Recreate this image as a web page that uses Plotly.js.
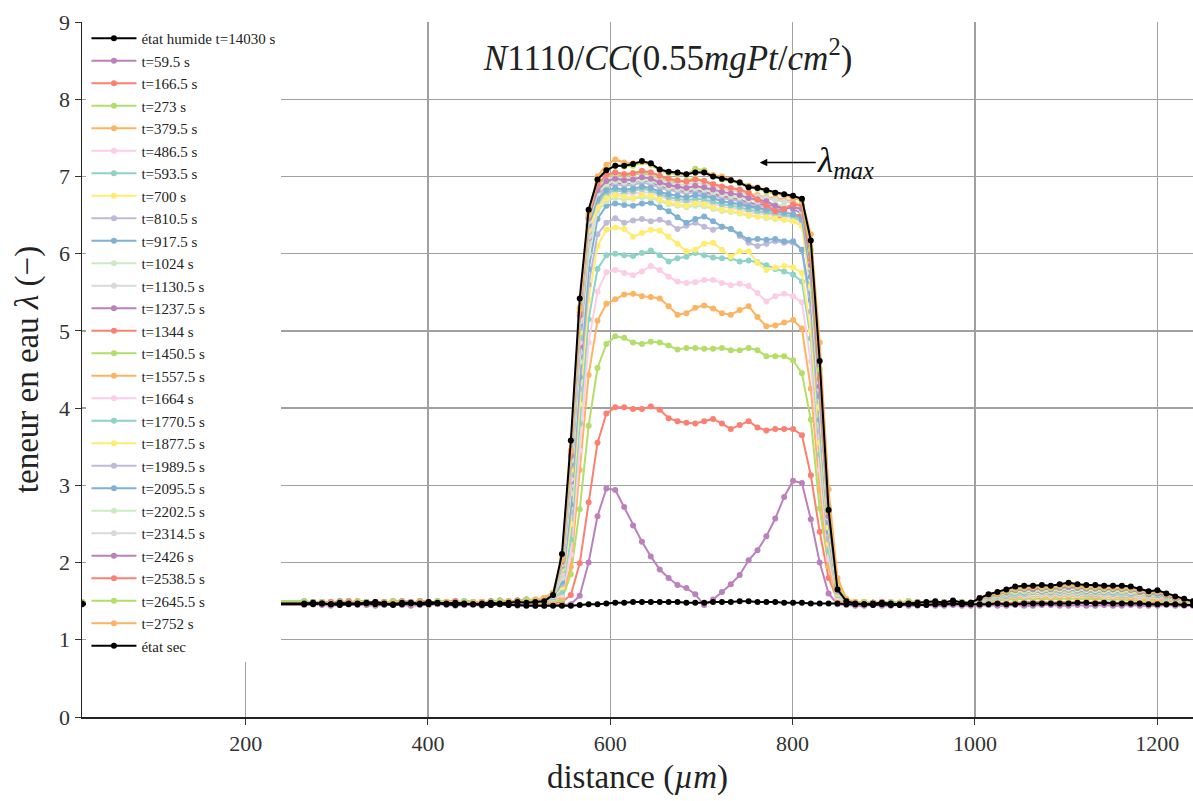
<!DOCTYPE html>
<html>
<head>
<meta charset="utf-8">
<script src="https://cdn.plot.ly/plotly-3.0.1.min.js"></script>
<style>html,body{margin:0;padding:0;background:#fff;}#chart{width:1193px;height:801px;}</style>
</head>
<body>
<div id="chart"></div>
<script>
// distance positions (µm)
const xDist = [20.5,
264.25,274,283.75,293.5,303.25,313,322.75,332.5,342.25,352,
361.75,371.5,381.25,391,400.75,410.5,420.25,430,439.75,449.5,
459.25,469,478.75,488.5,498.25,508,
517.75,527.5,537.25,547,556.75,566.5,576.25,586,595.75,605.5,
615.25,625,634.75,644.5,654.25,664,673.75,683.5,693.25,703,
712.75,722.5,732.25,742,751.75,761.5,771.25,781,790.75,800.5,810.25,
820,829.75,839.5,849.25,859,868.75,
878.5,888.25,898,907.75,917.5,927.25,937,946.75,956.5,966.25,976,985.75,
995.5,1005.25,1015,1024.75,1034.5,1044.25,1054,1063.75,1073.5,1083.25,
1093,1102.75,1112.5,1122.25,1132,1141.75,1151.5,1161.25,1171,1180.75,
1190.5,1200.25,1210,1219.75,1229.5,1239.25];

// état humide t=14030 s
const lamHumide = [1.47,
1.47,1.48,1.47,1.46,1.48,1.47,1.47,1.48,1.49,1.47,1.46,1.48,1.48,1.47,1.49,1.48,1.47,1.48,1.47,1.46,1.47,1.48,1.47,1.48,1.49,1.48,
1.49,1.50,1.58,2.11,3.58,5.42,6.57,6.96,7.08,7.14,
7.14,7.16,7.20,7.17,7.09,7.06,7.05,7.03,7.05,7.05,7.00,6.97,6.95,6.92,6.86,6.85,6.82,6.79,6.77,6.75,6.71,
6.17,4.61,2.68,1.65,1.50,1.47,
1.46,1.47,1.48,1.47,1.46,1.47,1.48,1.49,1.50,1.48,1.51,1.48,
1.48,1.54,1.59,1.62,1.65,1.69,1.70,1.70,1.71,1.70,1.72,1.74,1.72,1.71,1.71,1.70,1.70,1.70,1.69,1.66,1.63,1.64,1.60,1.56,1.53,1.50];

// état sec
const lamSec = [1.46,
1.46,1.46,1.47,1.46,1.45,1.46,1.46,1.47,1.46,1.46,1.45,1.46,1.47,1.46,1.46,1.47,1.46,1.45,1.46,1.46,1.45,1.45,1.46,1.45,1.45,1.44,
1.44,1.44,1.44,1.44,1.44,1.45,1.46,1.46,1.47,1.48,
1.48,1.49,1.49,1.49,1.49,1.49,1.49,1.48,1.48,1.48,1.49,1.49,1.49,1.50,1.50,1.49,1.49,1.49,1.48,1.48,1.48,
1.47,1.47,1.47,1.47,1.46,1.46,
1.46,1.45,1.46,1.45,1.45,1.46,1.45,1.45,1.46,1.46,1.47,1.46,
1.46,1.46,1.46,1.47,1.46,1.46,1.47,1.47,1.47,1.47,1.47,1.47,1.48,1.48,1.47,1.48,1.47,1.47,1.47,1.47,1.46,1.46,1.46,1.46,1.45,1.45];

const lam_59_5 = [1.46,
1.45,1.46,1.45,1.44,1.45,1.46,1.45,1.45,1.44,1.45,1.46,1.45,1.44,1.45,1.45,1.46,1.45,1.44,1.45,1.45,1.44,1.45,1.46,1.45,1.44,1.45,
1.44,1.44,1.45,1.45,1.46,1.57,2.00,2.60,2.96,2.94,
2.72,2.48,2.27,2.08,1.91,1.80,1.71,1.67,1.59,1.45,1.52,1.62,1.72,1.84,2.03,2.16,2.34,2.57,2.85,3.06,3.03,
2.56,2.00,1.60,1.46,1.45,1.44,
1.44,1.45,1.44,1.44,1.45,1.44,1.44,1.45,1.44,1.44,1.45,1.44,
1.44,1.44,1.45,1.44,1.44,1.45,1.44,1.44,1.45,1.45,1.44,1.44,1.45,1.44,1.44,1.45,1.44,1.44,1.45,1.44,1.44,1.44,1.45,1.44,1.44,1.44];

const lam_166_5 = [1.48,
1.47,1.48,1.47,1.46,1.48,1.47,1.47,1.48,1.49,1.47,1.46,1.48,1.48,1.47,1.49,1.48,1.47,1.48,1.47,1.46,1.47,1.48,1.47,1.48,1.49,1.48,
1.46,1.46,1.47,1.49,1.58,1.99,2.78,3.55,3.93,4.01,
4.01,3.99,3.99,4.02,3.98,3.87,3.83,3.81,3.80,3.83,3.86,3.80,3.73,3.78,3.83,3.75,3.71,3.73,3.73,3.73,3.65,
3.13,2.40,1.80,1.52,1.47,1.46,
1.47,1.48,1.47,1.46,1.47,1.48,1.47,1.47,1.48,1.47,1.48,1.47,
1.46,1.47,1.47,1.48,1.48,1.48,1.49,1.49,1.49,1.48,1.49,1.49,1.49,1.48,1.49,1.49,1.48,1.48,1.48,1.48,1.47,1.48,1.47,1.47,1.46,1.46];

const lam_273 = [1.47,
1.48,1.49,1.47,1.48,1.50,1.48,1.47,1.49,1.48,1.47,1.48,1.50,1.49,1.47,1.48,1.49,1.48,1.47,1.49,1.48,1.48,1.50,1.49,1.48,1.50,1.51,
1.47,1.48,1.49,1.52,1.85,2.69,3.77,4.52,4.83,4.93,
4.91,4.85,4.83,4.86,4.85,4.81,4.76,4.78,4.78,4.77,4.77,4.78,4.75,4.75,4.78,4.75,4.67,4.67,4.67,4.62,4.45,
3.85,2.70,1.95,1.50,1.46,1.47,
1.48,1.47,1.49,1.48,1.47,1.48,1.49,1.47,1.48,1.49,1.48,1.48,
1.47,1.49,1.50,1.51,1.52,1.52,1.53,1.53,1.53,1.52,1.53,1.53,1.53,1.52,1.53,1.52,1.52,1.52,1.51,1.51,1.50,1.50,1.49,1.49,1.48,1.47];

const lam_379_5 = [1.48,
1.49,1.47,1.48,1.49,1.48,1.50,1.48,1.47,1.49,1.49,1.48,1.47,1.48,1.50,1.49,1.48,1.49,1.50,1.48,1.47,1.49,1.48,1.50,1.49,1.51,1.50,
1.48,1.49,1.51,1.55,1.95,3.20,4.43,5.13,5.35,5.41,
5.47,5.48,5.45,5.44,5.42,5.32,5.21,5.23,5.30,5.33,5.29,5.23,5.21,5.27,5.32,5.18,5.06,5.07,5.11,5.14,5.03,
4.25,2.95,1.95,1.52,1.47,1.48,
1.49,1.48,1.47,1.49,1.48,1.50,1.48,1.47,1.49,1.48,1.49,1.49,
1.48,1.50,1.52,1.53,1.54,1.55,1.56,1.56,1.56,1.55,1.56,1.57,1.56,1.56,1.55,1.56,1.55,1.55,1.54,1.53,1.52,1.52,1.51,1.50,1.49,1.48];

const lam_486_5 = [1.47,
1.46,1.47,1.48,1.47,1.46,1.48,1.49,1.47,1.46,1.47,1.48,1.49,1.47,1.48,1.46,1.47,1.49,1.48,1.47,1.48,1.49,1.47,1.48,1.50,1.48,1.49,
1.49,1.50,1.52,1.58,2.10,3.45,4.85,5.51,5.76,5.79,
5.75,5.72,5.77,5.84,5.79,5.70,5.64,5.62,5.63,5.66,5.66,5.62,5.59,5.61,5.58,5.49,5.38,5.45,5.48,5.45,5.37,
4.60,3.20,2.05,1.55,1.48,1.47,
1.47,1.48,1.47,1.46,1.47,1.48,1.47,1.47,1.48,1.47,1.48,1.47,
1.47,1.50,1.52,1.54,1.55,1.57,1.57,1.57,1.58,1.57,1.58,1.59,1.58,1.58,1.58,1.57,1.57,1.57,1.57,1.55,1.54,1.55,1.53,1.51,1.50,1.48];

const lam_593_5 = [1.49,
1.50,1.48,1.49,1.47,1.49,1.48,1.50,1.49,1.47,1.48,1.50,1.49,1.48,1.49,1.47,1.50,1.49,1.48,1.50,1.49,1.47,1.49,1.51,1.50,1.49,1.52,
1.49,1.51,1.53,1.62,2.30,3.80,5.15,5.80,5.98,6.00,
5.98,5.97,6.01,6.04,5.98,5.90,5.94,5.96,6.01,5.98,5.95,5.94,5.94,5.90,5.91,5.89,5.85,5.80,5.77,5.73,5.64,
4.90,3.40,2.15,1.58,1.48,1.47,
1.48,1.47,1.49,1.48,1.47,1.48,1.49,1.47,1.48,1.49,1.48,1.48,
1.48,1.51,1.53,1.55,1.56,1.58,1.59,1.59,1.60,1.59,1.60,1.61,1.60,1.59,1.59,1.59,1.59,1.58,1.58,1.57,1.55,1.56,1.54,1.52,1.50,1.49];

const lam_700 = [1.47,
1.47,1.48,1.47,1.46,1.48,1.47,1.47,1.48,1.49,1.47,1.46,1.48,1.48,1.47,1.49,1.48,1.47,1.48,1.47,1.46,1.47,1.48,1.47,1.48,1.49,1.48,
1.49,1.51,1.54,1.68,2.50,4.05,5.40,6.10,6.31,6.34,
6.32,6.22,6.27,6.31,6.30,6.22,6.13,6.03,6.05,6.13,6.14,6.05,5.96,6.03,6.03,5.88,5.79,5.82,5.84,5.82,5.75,
5.00,3.55,2.25,1.60,1.49,1.48,
1.49,1.48,1.47,1.49,1.48,1.50,1.48,1.47,1.49,1.48,1.49,1.49,
1.48,1.51,1.54,1.56,1.58,1.60,1.61,1.60,1.61,1.60,1.62,1.63,1.62,1.61,1.61,1.60,1.61,1.60,1.60,1.58,1.56,1.57,1.55,1.52,1.51,1.49];

const lam_810_5 = [1.48,
1.48,1.49,1.47,1.48,1.50,1.48,1.47,1.49,1.48,1.47,1.48,1.50,1.49,1.47,1.48,1.49,1.48,1.47,1.49,1.48,1.48,1.50,1.49,1.48,1.50,1.51,
1.49,1.51,1.55,1.72,2.65,4.25,5.60,6.25,6.40,6.46,
6.40,6.43,6.45,6.42,6.44,6.40,6.32,6.36,6.40,6.35,6.31,6.35,6.32,6.23,6.14,6.10,6.13,6.16,6.14,6.14,6.05,
5.25,3.70,2.30,1.62,1.49,1.48,
1.47,1.48,1.47,1.46,1.47,1.48,1.47,1.47,1.48,1.47,1.48,1.47,
1.48,1.51,1.54,1.57,1.58,1.61,1.61,1.62,1.62,1.61,1.63,1.64,1.63,1.62,1.62,1.61,1.61,1.61,1.60,1.59,1.57,1.58,1.55,1.53,1.51,1.49];

const lam_917_5 = [1.48,
1.49,1.47,1.48,1.49,1.48,1.50,1.48,1.47,1.49,1.49,1.48,1.47,1.48,1.50,1.49,1.48,1.49,1.50,1.48,1.47,1.49,1.48,1.50,1.49,1.51,1.50,
1.50,1.52,1.55,1.75,2.75,4.40,5.80,6.45,6.62,6.65,
6.63,6.62,6.65,6.66,6.60,6.55,6.47,6.40,6.45,6.48,6.42,6.35,6.32,6.25,6.18,6.19,6.18,6.19,6.16,6.16,6.05,
5.40,3.85,2.40,1.65,1.50,1.48,
1.48,1.47,1.49,1.48,1.47,1.48,1.49,1.47,1.48,1.49,1.48,1.48,
1.48,1.52,1.55,1.57,1.59,1.61,1.62,1.62,1.63,1.62,1.64,1.65,1.64,1.63,1.63,1.62,1.62,1.62,1.61,1.60,1.58,1.58,1.56,1.53,1.51,1.49];

const lam_1024 = [1.47,
1.46,1.47,1.48,1.47,1.46,1.48,1.49,1.47,1.46,1.47,1.48,1.49,1.47,1.48,1.46,1.47,1.49,1.48,1.47,1.48,1.49,1.47,1.48,1.50,1.48,1.49,
1.50,1.52,1.56,1.80,2.90,4.60,6.00,6.55,6.68,6.72,
6.70,6.71,6.73,6.72,6.68,6.64,6.62,6.60,6.62,6.61,6.58,6.55,6.54,6.52,6.49,6.48,6.46,6.45,6.44,6.42,6.36,
5.55,4.00,2.45,1.66,1.50,1.48,
1.49,1.48,1.47,1.49,1.48,1.50,1.48,1.47,1.49,1.48,1.49,1.49,
1.48,1.52,1.55,1.58,1.60,1.62,1.63,1.63,1.64,1.63,1.65,1.66,1.65,1.64,1.64,1.63,1.63,1.63,1.62,1.60,1.58,1.59,1.56,1.53,1.51,1.49];

const lam_1130_5 = [1.49,
1.50,1.48,1.49,1.47,1.49,1.48,1.50,1.49,1.47,1.48,1.50,1.49,1.48,1.49,1.47,1.50,1.49,1.48,1.50,1.49,1.47,1.49,1.51,1.50,1.49,1.52,
1.50,1.52,1.57,1.84,3.00,4.72,6.12,6.66,6.80,6.84,
6.82,6.83,6.86,6.84,6.80,6.76,6.75,6.72,6.74,6.73,6.70,6.68,6.66,6.63,6.60,6.58,6.57,6.55,6.54,6.52,6.46,
5.65,4.10,2.50,1.68,1.50,1.48,
1.47,1.48,1.47,1.46,1.47,1.48,1.47,1.47,1.48,1.47,1.48,1.47,
1.48,1.52,1.56,1.58,1.60,1.63,1.64,1.64,1.65,1.64,1.66,1.67,1.66,1.65,1.65,1.64,1.64,1.64,1.63,1.61,1.59,1.60,1.57,1.54,1.51,1.49];

const lam_1237_5 = [1.47,
1.47,1.48,1.47,1.46,1.48,1.47,1.47,1.48,1.49,1.47,1.46,1.48,1.48,1.47,1.49,1.48,1.47,1.48,1.47,1.46,1.47,1.48,1.47,1.48,1.49,1.48,
1.50,1.52,1.57,1.86,3.05,4.80,6.20,6.74,6.88,6.92,
6.90,6.92,6.95,6.93,6.88,6.85,6.83,6.80,6.82,6.80,6.77,6.74,6.72,6.70,6.66,6.64,6.63,6.62,6.60,6.58,6.52,
5.75,4.20,2.55,1.68,1.50,1.48,
1.48,1.47,1.49,1.48,1.47,1.48,1.49,1.47,1.48,1.49,1.48,1.48,
1.48,1.53,1.56,1.59,1.61,1.64,1.65,1.65,1.66,1.65,1.67,1.68,1.67,1.66,1.66,1.65,1.65,1.65,1.64,1.62,1.59,1.60,1.57,1.54,1.52,1.49];

const lam_1344 = [1.48,
1.48,1.49,1.47,1.48,1.50,1.48,1.47,1.49,1.48,1.47,1.48,1.50,1.49,1.47,1.48,1.49,1.48,1.47,1.49,1.48,1.48,1.50,1.49,1.48,1.50,1.51,
1.50,1.53,1.58,1.90,3.12,4.88,6.28,6.82,6.94,6.98,
6.96,6.97,7.00,6.98,6.93,6.88,6.86,6.84,6.87,6.85,6.80,6.76,6.72,6.68,6.62,6.60,6.55,6.48,6.47,6.50,6.50,
5.80,4.25,2.60,1.70,1.51,1.48,
1.49,1.48,1.47,1.49,1.48,1.50,1.48,1.47,1.49,1.48,1.49,1.49,
1.48,1.53,1.56,1.59,1.61,1.64,1.65,1.65,1.66,1.65,1.67,1.68,1.67,1.66,1.66,1.65,1.65,1.65,1.64,1.62,1.59,1.60,1.57,1.54,1.52,1.49];

const lam_1450_5 = [1.48,
1.49,1.47,1.48,1.49,1.48,1.50,1.48,1.47,1.49,1.49,1.48,1.47,1.48,1.50,1.49,1.48,1.49,1.50,1.48,1.47,1.49,1.48,1.50,1.49,1.51,1.50,
1.50,1.53,1.58,1.92,3.18,4.95,6.33,6.86,7.00,7.02,
7.00,7.02,7.04,7.02,6.98,6.94,6.92,6.95,6.98,6.94,6.88,6.84,6.82,6.80,6.76,6.74,6.72,6.70,6.68,6.67,6.62,
5.90,4.30,2.62,1.70,1.50,1.48,
1.47,1.48,1.47,1.46,1.47,1.48,1.47,1.47,1.48,1.47,1.48,1.47,
1.48,1.53,1.57,1.59,1.62,1.65,1.66,1.66,1.67,1.66,1.68,1.69,1.68,1.67,1.67,1.66,1.66,1.66,1.65,1.62,1.60,1.61,1.58,1.54,1.52,1.49];

const lam_1557_5 = [1.49,
1.50,1.48,1.49,1.47,1.49,1.48,1.50,1.49,1.47,1.48,1.50,1.49,1.48,1.49,1.47,1.50,1.49,1.48,1.50,1.49,1.47,1.49,1.51,1.50,1.49,1.52,
1.51,1.53,1.59,1.94,3.22,5.00,6.36,6.88,7.02,7.05,
7.03,7.04,7.07,7.05,7.00,6.96,6.94,6.93,6.96,6.94,6.90,6.86,6.84,6.82,6.78,6.76,6.73,6.72,6.70,6.68,6.60,
5.95,4.40,2.68,1.72,1.51,1.48,
1.48,1.47,1.49,1.48,1.47,1.48,1.49,1.47,1.48,1.49,1.48,1.48,
1.48,1.53,1.57,1.59,1.62,1.65,1.66,1.66,1.67,1.66,1.68,1.69,1.68,1.67,1.67,1.66,1.66,1.66,1.65,1.62,1.60,1.61,1.58,1.54,1.52,1.49];

const lam_1664 = [1.47,
1.46,1.47,1.48,1.47,1.46,1.48,1.49,1.47,1.46,1.47,1.48,1.49,1.47,1.48,1.46,1.47,1.49,1.48,1.47,1.48,1.49,1.47,1.48,1.50,1.48,1.49,
1.50,1.52,1.57,1.86,3.08,4.85,6.22,6.62,6.75,6.78,
6.77,6.78,6.80,6.79,6.74,6.70,6.68,6.66,6.68,6.67,6.64,6.61,6.59,6.57,6.54,6.52,6.51,6.50,6.48,6.46,6.40,
5.60,4.05,2.48,1.66,1.50,1.48,
1.49,1.48,1.47,1.49,1.48,1.50,1.48,1.47,1.49,1.48,1.49,1.49,
1.48,1.52,1.56,1.58,1.60,1.63,1.64,1.64,1.65,1.64,1.66,1.67,1.66,1.65,1.65,1.64,1.64,1.64,1.63,1.61,1.59,1.60,1.57,1.54,1.51,1.49];

const lam_1770_5 = [1.47,
1.47,1.48,1.47,1.46,1.48,1.47,1.47,1.48,1.49,1.47,1.46,1.48,1.48,1.47,1.49,1.48,1.47,1.48,1.47,1.46,1.47,1.48,1.47,1.48,1.49,1.48,
1.50,1.52,1.58,1.90,3.15,4.92,6.28,6.66,6.78,6.82,
6.80,6.81,6.84,6.82,6.77,6.73,6.71,6.69,6.71,6.70,6.67,6.64,6.62,6.60,6.57,6.55,6.53,6.52,6.50,6.48,6.42,
5.62,4.08,2.50,1.67,1.50,1.48,
1.47,1.48,1.47,1.46,1.47,1.48,1.47,1.47,1.48,1.47,1.48,1.47,
1.48,1.53,1.56,1.59,1.61,1.64,1.65,1.65,1.66,1.65,1.67,1.68,1.67,1.66,1.66,1.65,1.65,1.65,1.64,1.62,1.59,1.60,1.57,1.54,1.52,1.49];

const lam_1877_5 = [1.48,
1.48,1.49,1.47,1.48,1.50,1.48,1.47,1.49,1.48,1.47,1.48,1.50,1.49,1.47,1.48,1.49,1.48,1.47,1.49,1.48,1.48,1.50,1.49,1.48,1.50,1.51,
1.50,1.52,1.58,1.92,3.20,4.98,6.30,6.60,6.72,6.76,
6.74,6.72,6.76,6.75,6.70,6.66,6.64,6.62,6.65,6.64,6.60,6.57,6.55,6.53,6.50,6.48,6.47,6.46,6.44,6.42,6.36,
5.58,4.02,2.46,1.66,1.50,1.48,
1.48,1.47,1.49,1.48,1.47,1.48,1.49,1.47,1.48,1.49,1.48,1.48,
1.48,1.52,1.56,1.58,1.60,1.63,1.64,1.64,1.65,1.64,1.66,1.67,1.66,1.65,1.65,1.64,1.64,1.64,1.63,1.61,1.59,1.60,1.57,1.54,1.51,1.49];

const lam_1989_5 = [1.48,
1.49,1.47,1.48,1.49,1.48,1.50,1.48,1.47,1.49,1.49,1.48,1.47,1.48,1.50,1.49,1.48,1.49,1.50,1.48,1.47,1.49,1.48,1.50,1.49,1.51,1.50,
1.50,1.52,1.59,1.95,3.25,5.04,6.36,6.74,6.86,6.90,
6.88,6.89,6.92,6.90,6.85,6.82,6.80,6.78,6.80,6.78,6.75,6.72,6.70,6.68,6.64,6.62,6.60,6.58,6.60,6.62,6.56,
5.78,4.22,2.56,1.69,1.50,1.48,
1.49,1.48,1.47,1.49,1.48,1.50,1.48,1.47,1.49,1.48,1.49,1.49,
1.48,1.53,1.57,1.59,1.62,1.65,1.66,1.66,1.67,1.66,1.68,1.69,1.68,1.67,1.67,1.66,1.66,1.66,1.65,1.62,1.60,1.61,1.58,1.54,1.52,1.49];

const lam_2095_5 = [1.49,
1.50,1.48,1.49,1.47,1.49,1.48,1.50,1.49,1.47,1.48,1.50,1.49,1.48,1.49,1.47,1.50,1.49,1.48,1.50,1.49,1.47,1.49,1.51,1.50,1.49,1.52,
1.50,1.52,1.59,1.96,3.28,5.08,6.38,6.70,6.82,6.85,
6.83,6.84,6.87,6.85,6.80,6.77,6.75,6.73,6.76,6.75,6.72,6.68,6.66,6.64,6.61,6.59,6.57,6.55,6.53,6.51,6.45,
5.70,4.15,2.52,1.68,1.50,1.48,
1.47,1.48,1.47,1.46,1.47,1.48,1.47,1.47,1.48,1.47,1.48,1.47,
1.48,1.53,1.56,1.59,1.61,1.64,1.65,1.65,1.66,1.65,1.67,1.68,1.67,1.66,1.66,1.65,1.65,1.65,1.64,1.62,1.59,1.60,1.57,1.54,1.52,1.49];

const lam_2202_5 = [1.47,
1.46,1.47,1.48,1.47,1.46,1.48,1.49,1.47,1.46,1.47,1.48,1.49,1.47,1.48,1.46,1.47,1.49,1.48,1.47,1.48,1.49,1.47,1.48,1.50,1.48,1.49,
1.51,1.53,1.60,1.98,3.32,5.12,6.42,6.78,6.90,6.94,
6.92,6.93,6.96,6.94,6.90,6.86,6.84,6.82,6.85,6.83,6.80,6.77,6.75,6.73,6.70,6.68,6.66,6.64,6.62,6.60,6.55,
5.82,4.25,2.58,1.70,1.51,1.48,
1.48,1.47,1.49,1.48,1.47,1.48,1.49,1.47,1.48,1.49,1.48,1.48,
1.48,1.53,1.57,1.60,1.62,1.66,1.67,1.67,1.68,1.67,1.69,1.70,1.69,1.68,1.68,1.67,1.67,1.67,1.66,1.63,1.61,1.62,1.58,1.55,1.52,1.50];

const lam_2314_5 = [1.47,
1.47,1.48,1.47,1.46,1.48,1.47,1.47,1.48,1.49,1.47,1.46,1.48,1.48,1.47,1.49,1.48,1.47,1.48,1.47,1.46,1.47,1.48,1.47,1.48,1.49,1.48,
1.51,1.53,1.60,2.00,3.36,5.16,6.44,6.84,6.96,6.99,
6.97,6.98,7.01,6.99,6.95,6.92,6.90,6.89,6.92,6.90,6.87,6.84,6.82,6.80,6.76,6.74,6.72,6.70,6.68,6.66,6.60,
5.88,4.32,2.62,1.71,1.51,1.48,
1.49,1.48,1.47,1.49,1.48,1.50,1.48,1.47,1.49,1.48,1.49,1.49,
1.48,1.53,1.57,1.60,1.62,1.66,1.67,1.67,1.68,1.67,1.69,1.70,1.69,1.68,1.68,1.67,1.67,1.67,1.66,1.63,1.61,1.62,1.58,1.55,1.52,1.50];

const lam_2426 = [1.48,
1.48,1.49,1.47,1.48,1.50,1.48,1.47,1.49,1.48,1.47,1.48,1.50,1.49,1.47,1.48,1.49,1.48,1.47,1.49,1.48,1.48,1.50,1.49,1.48,1.50,1.51,
1.51,1.53,1.60,2.01,3.38,5.20,6.46,6.82,6.94,6.97,
6.95,6.96,6.99,6.97,6.92,6.89,6.87,6.85,6.88,6.86,6.83,6.80,6.78,6.76,6.72,6.70,6.68,6.62,6.58,6.60,6.58,
5.85,4.28,2.60,1.70,1.51,1.48,
1.47,1.48,1.47,1.46,1.47,1.48,1.47,1.47,1.48,1.47,1.48,1.47,
1.48,1.53,1.57,1.59,1.62,1.65,1.66,1.66,1.67,1.66,1.68,1.69,1.68,1.67,1.67,1.66,1.66,1.66,1.65,1.62,1.60,1.61,1.58,1.54,1.52,1.49];

const lam_2538_5 = [1.48,
1.49,1.47,1.48,1.49,1.48,1.50,1.48,1.47,1.49,1.49,1.48,1.47,1.48,1.50,1.49,1.48,1.49,1.50,1.48,1.47,1.49,1.48,1.50,1.49,1.51,1.50,
1.51,1.54,1.61,2.03,3.42,5.24,6.48,6.90,7.02,7.05,
7.03,7.04,7.07,7.05,7.01,6.97,6.95,6.93,6.96,6.94,6.90,6.87,6.85,6.83,6.79,6.70,6.62,6.55,6.58,6.64,6.62,
5.92,4.38,2.66,1.72,1.51,1.49,
1.48,1.47,1.49,1.48,1.47,1.48,1.49,1.47,1.48,1.49,1.48,1.48,
1.48,1.53,1.58,1.60,1.63,1.66,1.67,1.68,1.68,1.67,1.69,1.71,1.69,1.68,1.68,1.67,1.67,1.67,1.66,1.64,1.61,1.62,1.59,1.55,1.52,1.50];

const lam_2645_5 = [1.49,
1.50,1.48,1.49,1.47,1.49,1.48,1.50,1.49,1.47,1.48,1.50,1.49,1.48,1.49,1.47,1.50,1.49,1.48,1.50,1.49,1.47,1.49,1.51,1.50,1.49,1.52,
1.52,1.54,1.61,2.04,3.44,5.28,6.50,6.96,7.10,7.14,
7.13,7.14,7.18,7.15,7.08,7.04,7.03,7.02,7.10,7.08,7.00,6.96,6.94,6.91,6.86,6.84,6.80,6.78,6.76,6.73,6.68,
6.05,4.50,2.72,1.74,1.52,1.49,
1.49,1.48,1.47,1.49,1.48,1.50,1.48,1.47,1.49,1.48,1.49,1.49,
1.48,1.53,1.58,1.60,1.63,1.66,1.67,1.68,1.68,1.67,1.69,1.71,1.69,1.68,1.68,1.67,1.67,1.67,1.66,1.64,1.61,1.62,1.59,1.55,1.52,1.50];

const lam_2752 = [1.47,
1.46,1.47,1.48,1.47,1.46,1.48,1.49,1.47,1.46,1.47,1.48,1.49,1.47,1.48,1.46,1.47,1.49,1.48,1.47,1.48,1.49,1.47,1.48,1.50,1.48,1.49,
1.52,1.54,1.60,2.05,3.45,5.30,6.52,7.00,7.15,7.22,
7.18,7.17,7.19,7.16,7.09,7.06,7.04,7.03,7.06,7.05,7.02,7.00,6.96,6.93,6.88,6.86,6.82,6.78,6.76,6.72,6.70,
6.25,4.85,2.95,1.80,1.53,1.49,
1.47,1.48,1.47,1.46,1.47,1.48,1.47,1.47,1.48,1.47,1.48,1.47,
1.48,1.54,1.58,1.61,1.64,1.67,1.68,1.68,1.69,1.68,1.70,1.72,1.70,1.69,1.69,1.68,1.68,1.68,1.67,1.65,1.62,1.63,1.59,1.55,1.53,1.50];

const tLabels = ['t=59.5 s','t=166.5 s','t=273 s','t=379.5 s','t=486.5 s','t=593.5 s','t=700 s','t=810.5 s','t=917.5 s','t=1024 s','t=1130.5 s','t=1237.5 s','t=1344 s','t=1450.5 s','t=1557.5 s','t=1664 s','t=1770.5 s','t=1877.5 s','t=1989.5 s','t=2095.5 s','t=2202.5 s','t=2314.5 s','t=2426 s','t=2538.5 s','t=2645.5 s','t=2752 s'];
const tSeries = [lam_59_5,lam_166_5,lam_273,lam_379_5,lam_486_5,lam_593_5,lam_700,lam_810_5,lam_917_5,lam_1024,lam_1130_5,lam_1237_5,lam_1344,lam_1450_5,lam_1557_5,lam_1664,lam_1770_5,lam_1877_5,lam_1989_5,lam_2095_5,lam_2202_5,lam_2314_5,lam_2426,lam_2538_5,lam_2645_5,lam_2752];
const palette = ['#bc80bd','#fb8072','#b3de69','#fdb462','#fccde5','#8dd3c7','#ffed6f','#bebada','#80b1d3','#ccebc5','#d9d9d9'];

const serif = '"Liberation Serif", "Times New Roman", serif';
const traces = tSeries.map((y, i) => ({
  x: xDist, y: y, name: tLabels[i], type: 'scatter', mode: 'lines+markers',
  line: {color: palette[i % palette.length], width: 2},
  marker: {color: palette[i % palette.length], size: 6},
  legendrank: i + 2
}));
traces.push({x: xDist, y: lamSec, name: 'état sec', type: 'scatter', mode: 'lines+markers',
  line: {color: '#000', width: 2}, marker: {color: '#000', size: 6}, legendrank: 100});
traces.push({x: xDist, y: lamHumide, name: 'état humide t=14030 s', type: 'scatter', mode: 'lines+markers',
  line: {color: '#000', width: 2}, marker: {color: '#000', size: 6}, legendrank: 1});

const layout = {
  width: 1193, height: 801,
  margin: {l: 82, r: 0, t: 22, b: 84},
  paper_bgcolor: '#fff', plot_bgcolor: '#fff',
  font: {family: serif, color: '#222'},
  title: {
    text: '<i>N</i>1110/<i>CC</i>(0.55<i>mgPt</i>/<i>cm</i><sup>2</sup>)',
    font: {family: serif, size: 35, color: '#222'},
    x: 0.56, xanchor: 'center', y: 0.928, yanchor: 'middle'
  },
  xaxis: {
    range: [20.5, 1239.25], tickvals: [200, 400, 600, 800, 1000, 1200],
    ticks: 'outside', ticklen: 6, tickcolor: '#333', tickwidth: 1,
    showline: true, linecolor: '#222', linewidth: 1.5,
    showgrid: true, gridcolor: '#a0a0a0', gridwidth: 1.3, zeroline: false,
    tickfont: {family: serif, size: 22, color: '#333'},
    title: {text: 'distance (<i>µm</i>)', font: {family: serif, size: 33, color: '#222'}, standoff: 10}
  },
  yaxis: {
    range: [0, 9], dtick: 1,
    ticks: 'outside', ticklen: 6, tickcolor: '#333', tickwidth: 1,
    showline: true, linecolor: '#222', linewidth: 1.5,
    showgrid: true, gridcolor: '#a0a0a0', gridwidth: 1.3, zeroline: false,
    tickfont: {family: serif, size: 22, color: '#333'},
    title: {text: 'teneur en eau <i>λ</i> (−)', font: {family: serif, size: 33, color: '#222'}, standoff: 10}
  },
  legend: {
    x: 0.004, y: 1, xanchor: 'left', yanchor: 'top',
    bgcolor: '#fff', borderwidth: 0,
    font: {family: serif, size: 15, color: '#222'},
    itemwidth: 45, traceorder: 'normal'
  },
  annotations: [{
    x: 764, y: 7.18, xref: 'x', yref: 'y',
    ax: 86, ay: 0, axref: 'pixel', ayref: 'pixel',
    text: '<i>λ<sub>max</sub></i>', showarrow: true,
    arrowhead: 2, arrowsize: 1, arrowwidth: 1.5, arrowcolor: '#000',
    font: {family: serif, size: 35, color: '#111'}
  }]
};

Plotly.newPlot('chart', traces, layout, {displayModeBar: false, staticPlot: true});
</script>
</body>
</html>
